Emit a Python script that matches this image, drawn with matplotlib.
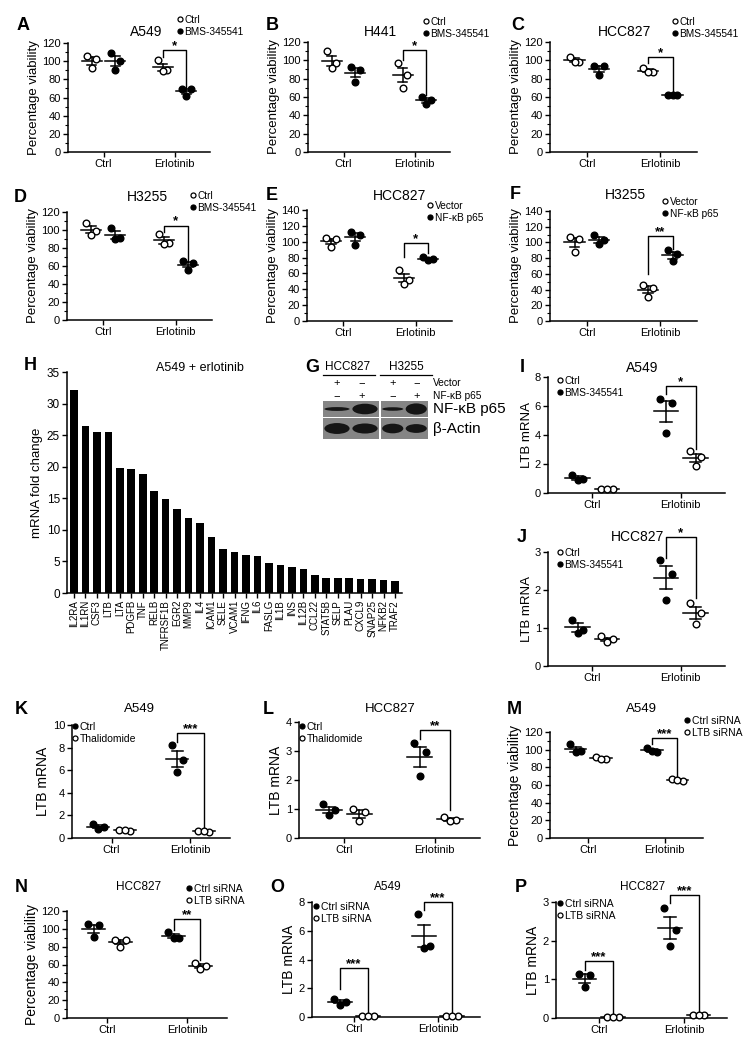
import numpy as np
import matplotlib
matplotlib.use('Agg')
import matplotlib.pyplot as plt
from matplotlib import font_manager
from matplotlib.font_manager import FontProperties
from matplotlib.lines import Line2D
from matplotlib.patches import Ellipse
from matplotlib.ticker import AutoMinorLocator, MultipleLocator

plt.rcParams['font.family'] = ['Liberation Sans', 'DejaVu Sans']
plt.rcParams['axes.linewidth'] = 1.1

try:
    font_manager.findfont('Liberation Sans Narrow', fallback_to_default=False)
    NARROW = ['Liberation Sans Narrow', 'Liberation Sans', 'DejaVu Sans']
except ValueError:
    NARROW = ['Liberation Sans', 'DejaVu Sans']
REG = ['Liberation Sans', 'DejaVu Sans']

# ---- data: [Ctrl group, Erlotinib group] for the left / right series ----
a_left = [[106, 102, 92], [101, 90, 89]]
a_right = [[109, 100, 90], [69, 69, 62]]
b_left = [[110, 97, 92], [97, 84, 70]]
b_right = [[93, 89.6, 76.5], [60.4, 56.7, 52]]
c_left = [[104, 98, 98], [92, 87, 87]]
c_right = [[94, 94, 84], [62, 62, 62]]
d_left = [[108, 99, 94], [96, 85.6, 84]]
d_right = [[102.6, 91, 89.5], [65.4, 62.8, 56]]
e_left = [[105, 103, 93.6], [64, 52, 47]]
e_right = [[112.6, 108.4, 96], [81, 77.6, 76.8]]
f_left = [[107, 105, 88], [46, 42, 31]]
f_right = [[110, 103, 97.4], [90, 84.7, 76]]
i_left = [[1.26, 0.99, 0.87], [6.5, 6.23, 4.14]]
i_right = [[0.25, 0.25, 0.25], [2.87, 2.48, 1.86]]
j_left = [[1.22, 0.95, 0.87], [2.78, 2.43, 1.75]]
j_right = [[0.78, 0.7, 0.63], [1.65, 1.4, 1.1]]
k_left = [[1.24, 0.94, 0.82], [8.2, 6.9, 5.8]]
k_right = [[0.75, 0.6, 0.7], [0.65, 0.55, 0.6]]
l_left = [[1.18, 0.95, 0.78], [3.29, 2.95, 2.14]]
l_right = [[1.0, 0.91, 0.57], [0.74, 0.63, 0.57]]
m_left = [[106, 98, 97], [102, 97, 99]]
m_right = [[92, 89, 90], [67, 64, 66]]
n_left = [[105, 104, 91], [96, 90, 90]]
n_right = [[88, 88, 80], [62, 58, 55]]
o_left = [[1.24, 1.05, 0.86], [7.16, 4.97, 4.83]]
o_right = [[0.08, 0.08, 0.08], [0.1, 0.1, 0.1]]
p_left = [[1.15, 1.1, 0.8], [2.85, 2.27, 1.85]]
p_right = [[0.03, 0.03, 0.03], [0.07, 0.07, 0.07]]

groups = ['Ctrl', 'Erlotinib']

genes = ['IL2RA', 'IL1RN', 'CSF3', 'LTB', 'LTA', 'PDGFB', 'TNF', 'RELB', 'TNFRSF1B',
         'EGR2', 'MMP9', 'IL4', 'ICAM1', 'SELE', 'VCAM1', 'IFNG', 'IL6', 'FASLG',
         'IL1B', 'INS', 'IL12B', 'CCL22', 'STAT5B', 'SELP', 'PLAU', 'CXCL9',
         'SNAP25', 'NFKB2', 'TRAF2']
fold_change = [32.1, 26.4, 25.5, 25.5, 19.8, 19.7, 18.9, 16.1, 14.9, 13.3, 11.8, 11.1,
               8.8, 7.0, 6.5, 6.0, 5.9, 4.8, 4.4, 4.1, 3.8, 2.85, 2.35, 2.35, 2.3,
               2.25, 2.2, 2.05, 1.9]

# western blot band strength (lanes: HCC827 vec, HCC827 p65, H3255 vec, H3255 p65)
band_p65 = [0.24, 0.66, 0.22, 0.7]
band_actin = [0.52, 0.48, 0.46, 0.42]

W, H = 750, 1043
fig = plt.figure(figsize=(W / 100, H / 100), dpi=100)


def add_ax(x0, x1, ytop, ybot):
    return fig.add_axes([x0 / W, 1 - ybot / H, (x1 - x0) / W, (ybot - ytop) / H])


def ftext(x, y, s, **kw):
    kw.setdefault('ha', 'center')
    kw.setdefault('va', 'center')
    fig.text(x / W, 1 - y / H, s, **kw)


def style(ax, fam, fs_tick, minor):
    for side in ('top', 'right'):
        ax.spines[side].set_visible(False)
    ax.tick_params(direction='out', length=3.5, width=1, labelsize=fs_tick, pad=1.5)
    ax.tick_params(which='minor', direction='out', length=2, width=0.8)
    if minor:
        ax.yaxis.set_minor_locator(AutoMinorLocator(2))
    for t in ax.get_xticklabels() + ax.get_yticklabels():
        t.set_fontfamily(fam)


def dot_panel(ax, left, right, left_open, ymax, ystep, ylabel, minor=False,
              fam=REG, fs_tick=8, fs_lab=9.5, labelpad=2):
    pos = [(1, 2), (4, 5)]
    offs = [-0.2, 0.2, 0.0]
    for (xl, xr), lv, rv in zip(pos, left, right):
        for x, vals, is_open in ((xl, lv, left_open), (xr, rv, not left_open)):
            m = np.mean(vals)
            se = np.std(vals, ddof=1) / np.sqrt(len(vals))
            ax.plot([x - 0.42, x + 0.42], [m, m], color='k', lw=1.1, zorder=2)
            ax.plot([x, x], [m - se, m + se], color='k', lw=1.1, zorder=2)
            ax.plot([x - 0.2, x + 0.2], [m + se, m + se], color='k', lw=1.1, zorder=2)
            ax.plot([x - 0.2, x + 0.2], [m - se, m - se], color='k', lw=1.1, zorder=2)
            ax.plot([x + o for o in offs], vals, 'o', ls='none', ms=4.8,
                    mfc='white' if is_open else 'black', mec='k', mew=1,
                    zorder=3, clip_on=False)
    ax.set_xlim(0, 6)
    ax.set_ylim(0, ymax)
    ax.yaxis.set_major_locator(MultipleLocator(ystep))
    ax.set_xticks([1.5, 4.5])
    ax.set_xticklabels(groups)
    ax.set_ylabel(ylabel, fontsize=fs_lab, family=fam, labelpad=labelpad)
    style(ax, fam, fs_tick, minor)


def bracket(ax, x1, x2, top, yl, yr, stars, fs=9.5):
    ax.plot([x1, x1, x2, x2], [yl, top, top, yr], color='k', lw=1, clip_on=False)
    ax.annotate(stars, ((x1 + x2) / 2, top), xytext=(0, -1.5), textcoords='offset points',
                ha='center', va='bottom', fontsize=fs, fontweight='bold',
                annotation_clip=False)


def legend(ax, x, y, labels, fills, fam=REG, fs=7.3):
    handles = [Line2D([], [], marker='o', ls='none', ms=3.6,
                      mfc='black' if f else 'white', mec='black', mew=0.9) for f in fills]
    ax.legend(handles, labels, loc='upper left', bbox_to_anchor=(x / W, 1 - y / H),
              bbox_transform=fig.transFigure, frameon=False, handlelength=0.5,
              handletextpad=0.25, labelspacing=0.2, borderpad=0, borderaxespad=0,
              prop=FontProperties(family=fam, size=fs))


def letter(x, y, s):
    ftext(x, y, s, fontsize=13, fontweight='bold')


PV = 'Percentage viability'
LT = 'LTB mRNA'
bms = ['Ctrl', 'BMS-345541']
p65 = ['Vector', 'NF-\u03baB p65']
sirna = ['Ctrl siRNA', 'LTB siRNA']

# ---- row 1 ----
ax = add_ax(68, 210, 43, 152)
dot_panel(ax, a_left, a_right, True, 120, 20, PV, minor=True)
bracket(ax, 4, 5, 112, 104.6, 71, '*')
legend(ax, 177, 15, bms, [False, True])
ftext(146, 32, 'A549', fontsize=10)
letter(23, 25, 'A')

ax = add_ax(308, 450, 42, 152)
dot_panel(ax, b_left, b_right, True, 120, 20, PV, minor=True)
bracket(ax, 4, 5, 111, 100.6, 62, '*')
legend(ax, 423, 17, bms, [False, True])
ftext(380, 32, 'H441', fontsize=10)
letter(272, 25, 'B')

ax = add_ax(550, 697, 42, 152)
dot_panel(ax, c_left, c_right, True, 120, 20, PV, minor=True)
bracket(ax, 4, 5, 104, 97, 63, '*')
legend(ax, 672, 17, bms, [False, True])
ftext(625, 32, 'HCC827', fontsize=10)
letter(518, 25, 'C')

# ---- row 2 ----
ax = add_ax(67, 212, 212, 320)
dot_panel(ax, d_left, d_right, True, 120, 20, PV, minor=True)
bracket(ax, 4, 5, 105, 97.5, 65, '*')
legend(ax, 190, 191, bms, [False, True])
ftext(147, 197, 'H3255', fontsize=10)
letter(20, 197, 'D')

ax = add_ax(307, 452, 210, 321)
dot_panel(ax, e_left, e_right, True, 140, 20, PV, minor=True)
bracket(ax, 4, 5, 98, 81, 86, '*')
legend(ax, 427, 201, p65, [False, True])
ftext(400, 196, 'HCC827', fontsize=10)
letter(272, 196, 'E')

ax = add_ax(550, 697, 211, 321)
dot_panel(ax, f_left, f_right, True, 140, 20, PV, minor=True)
bracket(ax, 4, 5, 108.5, 60, 92, '**')
legend(ax, 662, 197, p65, [False, True])
ftext(625, 195, 'H3255', fontsize=10)
letter(515, 195, 'F')

# ---- H: bar chart ----
ax = add_ax(67, 402, 372, 593)
ax.bar(range(len(genes)), fold_change, width=0.66, color='black')
ax.set_xlim(-0.6, len(genes) - 0.4)
ax.set_ylim(0, 35)
ax.yaxis.set_major_locator(MultipleLocator(5))
ax.set_xticks(range(len(genes)))
ax.set_xticklabels(genes, rotation=90)
ax.set_ylabel('mRNA fold change', fontsize=9.5, labelpad=3)
style(ax, REG, 8.5, False)
ax.tick_params(axis='x', labelsize=7)
ftext(200, 368, 'A549 + erlotinib', fontsize=9)
letter(30, 366, 'H')

# ---- G: western blot ----
letter(312, 367, 'G')
ftext(348, 367, 'HCC827', fontsize=8.5)
ftext(406, 367, 'H3255', fontsize=8.5)
fig.add_artist(Line2D([323 / W, 375 / W], [1 - 375 / H] * 2, color='k', lw=0.9))
fig.add_artist(Line2D([380 / W, 432 / W], [1 - 375 / H] * 2, color='k', lw=0.9))
lane_x = [337, 362, 393, 417]
vec_sign = ['+', '\u2212', '+', '\u2212']
p65_sign = ['\u2212', '+', '\u2212', '+']
for lx, sv, sp in zip(lane_x, vec_sign, p65_sign):
    ftext(lx, 383, sv, fontsize=8)
    ftext(lx, 396, sp, fontsize=8)
ftext(433, 383, 'Vector', fontsize=7.3, ha='left')
ftext(433, 396, 'NF-\u03baB p65', fontsize=7.3, ha='left')
ftext(433, 409, 'NF-\u03baB p65', fontsize=11, ha='left')
ftext(433, 429, '\u03b2-Actin', fontsize=11, ha='left')
boxes = [(323, 379), (381, 428)]
rows = [(401, 417, band_p65), (418, 439, band_actin)]
for bi, (x0, x1) in enumerate(boxes):
    for y0, y1, bands in rows:
        bx = add_ax(x0, x1, y0, y1)
        bx.set_facecolor('#858585')
        bx.set_xlim(0.5, 2.5)
        bx.set_ylim(0, 1)
        bx.set_xticks([])
        bx.set_yticks([])
        for s in bx.spines.values():
            s.set_visible(False)
        for li in range(2):
            h = bands[2 * bi + li]
            bx.add_patch(Ellipse((li + 1, 0.5), 0.9, h, color='#151515', lw=0))

# ---- I / J ----
ax = add_ax(548, 725, 377, 493)
dot_panel(ax, i_left, i_right, False, 8, 2, LT, labelpad=1)
bracket(ax, 4, 5, 7.4, 6.8, 3.06, '*')
legend(ax, 557, 376, bms, [False, True])
ftext(642, 368, 'A549', fontsize=10)
letter(522, 368, 'I')

ax = add_ax(548, 725, 552, 666)
dot_panel(ax, j_left, j_right, False, 3, 1, LT, labelpad=1)
bracket(ax, 4, 5, 3.4, 2.85, 1.8, '*')
legend(ax, 557, 548, bms, [False, True])
ftext(638, 537, 'HCC827', fontsize=10)
letter(522, 538, 'J')

# ---- row K L M ----
ax = add_ax(72, 230, 725, 838)
dot_panel(ax, k_left, k_right, False, 10, 2, LT, fam=NARROW, fs_lab=10)
bracket(ax, 4, 5, 9.3, 8.5, 0.8, '***')
legend(ax, 72, 722, ['Ctrl', 'Thalidomide'], [True, False], fam=NARROW, fs=7.5)
ftext(139, 709, 'A549', fontsize=9.5, family=NARROW)
letter(21, 709, 'K')

ax = add_ax(299, 480, 722, 838)
dot_panel(ax, l_left, l_right, False, 4, 1, LT, fam=NARROW, fs_lab=10)
bracket(ax, 4, 5, 3.73, 3.43, 0.97, '**')
legend(ax, 299, 722, ['Ctrl', 'Thalidomide'], [True, False], fam=NARROW, fs=7.5)
ftext(390, 709, 'HCC827', fontsize=9.5, family=NARROW)
letter(268, 709, 'L')

ax = add_ax(550, 703, 732, 838)
dot_panel(ax, m_left, m_right, False, 120, 20, PV, minor=True, fam=NARROW, fs_lab=10)
bracket(ax, 4, 5, 113, 106, 68, '***')
legend(ax, 684, 716, sirna, [True, False], fam=NARROW, fs=7.5)
ftext(641, 709, 'A549', fontsize=9.5, family=NARROW)
letter(514, 709, 'M')

# ---- row N O P ----
ax = add_ax(67, 227, 911, 1018)
dot_panel(ax, n_left, n_right, False, 120, 20, PV, minor=True, fam=NARROW, fs_lab=10)
bracket(ax, 4, 5, 110.6, 99, 64.7, '**')
legend(ax, 186, 884, sirna, [True, False], fam=NARROW, fs=7.5)
ftext(139, 887, 'HCC827', fontsize=8.5, family=NARROW)
letter(21, 887, 'N')

ax = add_ax(312, 480, 902, 1017)
dot_panel(ax, o_left, o_right, False, 8, 2, LT, fam=NARROW, fs_lab=10)
bracket(ax, 1, 2, 3.38, 1.98, 0.12, '***')
bracket(ax, 4, 5, 8.0, 7.46, 0.12, '***')
legend(ax, 313, 902, sirna, [True, False], fam=NARROW, fs=7.5)
ftext(388, 887, 'A549', fontsize=8.5, family=NARROW)
letter(277, 887, 'O')

ax = add_ax(556, 727, 902, 1018)
dot_panel(ax, p_left, p_right, False, 3, 1, LT, fam=NARROW, fs_lab=10)
bracket(ax, 1, 2, 1.47, 1.23, 0.07, '***')
bracket(ax, 4, 5, 3.19, 2.98, 0.1, '***')
legend(ax, 557, 899, sirna, [True, False], fam=NARROW, fs=7.5)
ftext(643, 887, 'HCC827', fontsize=8.5, family=NARROW)
letter(521, 887, 'P')

fig.savefig('out.png', dpi=100)
